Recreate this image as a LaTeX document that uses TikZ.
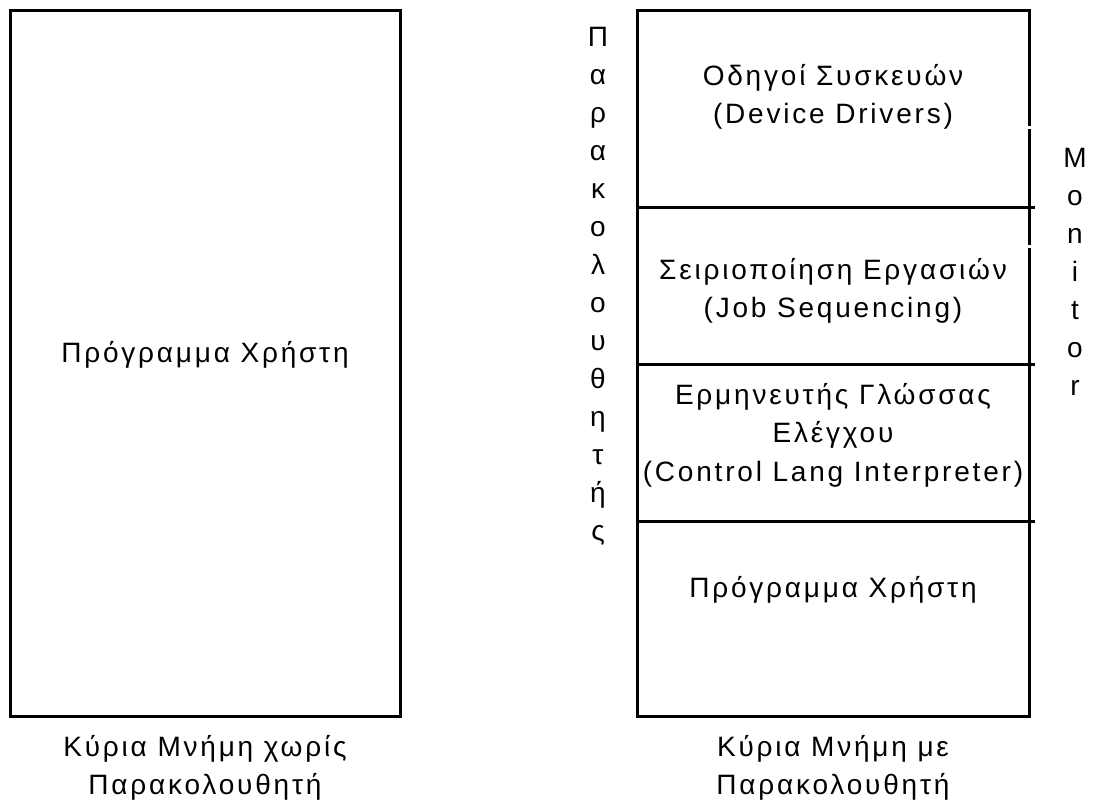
\documentclass[tikz,border=0pt]{standalone}
\usepackage{fontspec}
\setmainfont{Liberation Sans}[LetterSpace=10]
\begin{document}
\begin{tikzpicture}[x=1pt,y=-1pt,
  frame/.style={line width=3pt},
  lbl/.style={align=center,inner sep=0pt,font=\fontsize{28}{38.5}\selectfont},
  vtext/.style={align=center,inner sep=0pt,font=\fontsize{28}{38}\selectfont}]
\useasboundingbox (0,0) rectangle (1098,803);
% memory without monitor
\draw[frame] (10,10) rectangle (400,716);
\node[lbl] (user1) at (205,355) {Πρόγραμμα Χρήστη};
\node[lbl] (cap1) at (205,768) {Κύρια Μνήμη χωρίς\\Παρακολουθητή};
% memory with monitor
\coordinate (tl) at (637,10);
\coordinate (tr) at (1029,10);
\coordinate (bl) at (637,716);
\coordinate (br) at (1029,716);
\draw[frame] (1029,126) -- (tr) -- (tl) -- (bl) -- (br) -- (1029,248);
\draw[frame] (1029,129) -- (1029,245);
\foreach \y in {207,364,521} \draw[frame] (637,\y) -- (1035,\y);
\node[lbl] (dev) at (833,97) {Οδηγοί Συσκευών\\(Device Drivers)};
\node[lbl] (job) at (833,291) {Σειριοποίηση Εργασιών\\(Job Sequencing)};
\node[lbl] (cli) at (833,435) {Ερμηνευτής Γλώσσας\\Ελέγχου\\(Control Lang Interpreter)};
\node[lbl] (user2) at (833,590) {Πρόγραμμα Χρήστη};
\node[lbl] (cap2) at (833,768) {Κύρια Μνήμη με\\Παρακολουθητή};
% vertical labels
\node[vtext] (mon) at (598,286) {Π\\α\\ρ\\α\\κ\\ο\\λ\\ο\\υ\\θ\\η\\τ\\ή\\ς};
\node[vtext] (monen) at (1075,272) {M\\o\\n\\i\\t\\o\\r};
\end{tikzpicture}
\end{document}
